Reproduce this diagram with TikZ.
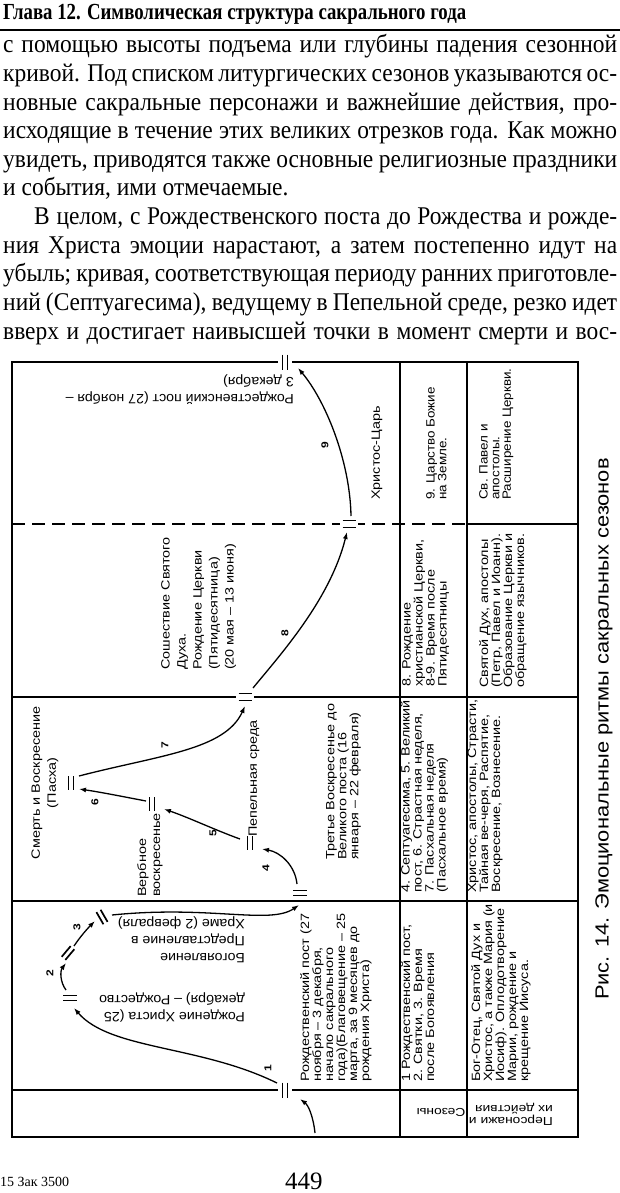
\documentclass[tikz,border=0pt]{standalone}
\usepackage{fontspec}
\usepackage{graphicx}
\setmainfont{Liberation Serif}
\newfontfamily\bodyfont[FakeStretch=0.92]{Liberation Serif}
\newfontfamily\dsans[FakeStretch=1.2]{Liberation Sans}
\newfontfamily\dsansb[FakeStretch=1.12]{Liberation Sans}
\newfontfamily\hsans[FakeStretch=1.05]{Liberation Sans}
\newfontfamily\csans[FakeStretch=1.15]{Liberation Sans}
\usetikzlibrary{arrows.meta}
\tikzset{
  bodyln/.style={anchor=base west, inner sep=0pt, font=\bodyfont\fontsize{25.5}{28}\selectfont},
  vt/.style={rotate=90, anchor=north west, inner sep=0pt, align=left, font=\dsans\fontsize{12}{12}\selectfont},
  vtb/.style={vt, font=\dsansb\fontsize{12}{11.7}\selectfont},
  vtw/.style={vt, font=\dsans\fontsize{12}{16}\selectfont},
  vtc/.style={vtw, anchor=center, align=center},
  vts/.style={rotate=90, anchor=west, inner sep=0pt, font=\dsans\fontsize{12}{12}\selectfont},
  ut/.style={rotate=180, anchor=north west, inner sep=0pt, align=left, font=\hsans\fontsize{13.5}{17}\selectfont},
  utb/.style={ut, font=\dsans\fontsize{11.5}{12}\selectfont},
  num/.style={rotate=90, inner sep=0pt, font=\dsans\bfseries\fontsize{10}{10}\selectfont},
  arr/.style={line width=1.3pt, -{Latex[length=7pt,width=5pt]}},
  boxline/.style={line width=1.8pt},
  dashln/.style={line width=1.8pt, dash pattern=on 13pt off 7pt},
  dbar/.pic={\draw[line width=1.7pt] (-2.4,-7) -- (-2.4,7) (2.4,-7) -- (2.4,7);},
  dbarg/.pic={\fill[white] (-7,-3) rectangle (7,3);
              \draw[line width=1.7pt] (-2.4,-7.5) -- (-2.4,7.5) (2.4,-7.5) -- (2.4,7.5);},
  eqg/.pic={\fill[white] (-9,-2.2) rectangle (9,2.2);
            \draw[line width=1.7pt] (-6.5,-3.6) -- (6.5,-3.6) (-6.5,3.6) -- (6.5,3.6);}
}
\begin{document}
\begin{tikzpicture}[x=1pt,y=-1pt]
\useasboundingbox (0,0) rectangle (620,1193);
\fill[white] (0,0) rectangle (620,1193);

% ---------- header and body text ----------
\node[anchor=base west, inner sep=0pt, font=\bfseries\fontsize{23}{26}\selectfont] (hdr) at (3,20)
  {\resizebox{463pt}{\height}{Глава 12. Символическая структура сакрального года}};
\draw[line width=2.6pt] (0,30) -- (620,30);

\node[bodyln] (b1) at (3,53) {\makebox[614pt][s]{с помощью высоты подъема или глубины падения сезонной}};
\node[bodyln] (b2) at (3,81.6) {\makebox[614pt][s]{кривой. Под списком литургических сезонов указываются ос-}};
\node[bodyln] (b3) at (3,110.2) {\makebox[614pt][s]{новные сакральные персонажи и важнейшие действия, про-}};
\node[bodyln] (b4) at (3,138.8) {\makebox[614pt][s]{исходящие в течение этих великих отрезков года. Как можно}};
\node[bodyln] (b5) at (3,167.4) {\makebox[614pt][s]{увидеть, приводятся также основные религиозные праздники}};
\node[bodyln] (b6) at (3,196) {и события, ими отмечаемые.};
\node[bodyln] (b7) at (34,224.6) {\makebox[583pt][s]{В целом, с Рождественского поста до Рождества и рожде-}};
\node[bodyln] (b8) at (3,253.2) {\makebox[614pt][s]{ния Христа эмоции нарастают, а затем постепенно идут на}};
\node[bodyln] (b9) at (3,281.8) {\makebox[614pt][s]{убыль; кривая, соответствующая периоду ранних приготовле-}};
\node[bodyln] (b10) at (3,310.4) {\makebox[614pt][s]{ний (Септуагесима), ведущему в Пепельной среде, резко идет}};
\node[bodyln] (b11) at (3,339) {\makebox[614pt][s]{вверх и достигает наивысшей точки в момент смерти и вос-}};

% ---------- table frame ----------
\draw[boxline] (12,362) rectangle (578,1137);
\draw[boxline] (400,362) -- (400,1137);
\draw[boxline] (467,362) -- (467,1137);
\draw[dashln] (12,524) -- (467,524);
\draw[boxline] (467,524) -- (578,524);
\draw[boxline] (12,697) -- (578,697);
\draw[boxline] (12,901) -- (578,901);
\draw[boxline] (12,1090) -- (578,1090);

% ---------- markers ----------
\coordinate (mTop) at (285,362);
\coordinate (mK) at (349,524);
\coordinate (mP) at (245,697);
\coordinate (mS) at (300,893);
\coordinate (mStart) at (285,1090);
\coordinate (mR) at (70,998);
\coordinate (mB) at (68,953);
\coordinate (mH) at (102,917);
\coordinate (mPep) at (250,843);
\coordinate (mVerb) at (152,804);
\coordinate (mPas) at (71,783);
\pic at (mTop) {dbarg};
\pic at (mK) {eqg};
\pic at (mP) {eqg};
\pic[rotate=90] at (mS) {dbar};
\pic at (mStart) {dbarg};
\pic[rotate=90] at (mR) {dbar};
\pic[rotate=-40] at (mB) {dbar};
\pic[rotate=30] at (mH) {dbar};
\pic at (mPep) {dbar};
\pic at (mVerb) {dbar};
\pic at (mPas) {dbar};

% ---------- curve end points ----------
\coordinate (s0) at (315,1133);
\coordinate (s0e) at (300,1099);
\coordinate (c1s) at (277,1083);
\coordinate (c1e) at (74,1008);
\coordinate (c2s) at (66,990);
\coordinate (c2e) at (66,963);
\coordinate (c3s) at (74,946);
\coordinate (c3e) at (95,921);
\coordinate (c3bs) at (112,915);
\coordinate (c3be) at (299,905);
\coordinate (c4s) at (297,884);
\coordinate (c4e) at (262,849);
\coordinate (c5s) at (240,839);
\coordinate (c5e) at (164,809);
\coordinate (c6s) at (146,801);
\coordinate (c6e) at (79,789);
\coordinate (c7s) at (79,776);
\coordinate (c7e) at (245,706);
\coordinate (c8s) at (253,688);
\coordinate (c8e) at (347,532);
\coordinate (c9s) at (351,516);
\coordinate (c9e) at (298,368);

\draw[arr] (s0) .. controls (313,1115) and (308,1105) .. (s0e);
\draw[arr] (c1s) .. controls (200,1045) and (110,1050) .. (c1e);
\draw[arr] (c2s) .. controls (60,982) and (60,971) .. (c2e);
\draw[arr] (c3s) .. controls (80,937) and (87,929) .. (c3e);
\draw[arr] (c3bs) .. controls (210,905) and (270,925) .. (c3be);
\draw[arr] (c4s) .. controls (295,865) and (280,852) .. (c4e);
\draw[arr] (c5s) .. controls (215,830) and (190,818) .. (c5e);
\draw[arr] (c6s) .. controls (125,797) and (100,792) .. (c6e);
\draw[arr] (c7s) .. controls (160,755) and (225,750) .. (c7e);
\draw[arr] (c8s) .. controls (280,655) and (330,600) .. (c8e);
\draw[arr] (c9s) .. controls (350,460) and (325,400) .. (c9e);

% ---------- curve numbers ----------
\node[num] (n1) at (268,1068) {1};
\node[num] (n2) at (50,973) {2};
\node[num] (n3) at (77,927) {3};
\node[num] (n4) at (266,868) {4};
\node[num] (n5) at (213,833) {5};
\node[num] (n6) at (95,802) {6};
\node[num] (n7) at (165,745) {7};
\node[num] (n8) at (285,633) {8};
\node[num] (n9) at (325,445) {9};

% ---------- chart labels ----------
\node[ut] (tRpost) at (294,405) {Рождественский пост (27 ноября –\\3 декабря)};
\node[vts] (tCar) at (377,500) {Христос-Царь};
\node[vtw] (tSosh) at (161,670) {Сошествие Святого\\Духа.\\Рождение Церкви\\(Пятидесятница)\\(20 мая – 13 июня)};
\node[vtc] (tPas) at (45,783) {Смерть и Воскресение\\(Пасха)};
\node[vt, font=\dsans\fontsize{12}{14}\selectfont] (tVerb) at (137,897) {Вербное\\воскресенье};
\node[vts] (tPep) at (254,837) {Пепельная среда};
\node[vt] (tTret) at (326,860) {Третье Воскресенье до\\Великого поста (16\\января – 22 февраля)};
\node[vt] (tRp2) at (300,1082) {Рождественский пост (27\\ноября – 3 декабря,\\начало сакрального\\года)(Благовещение – 25\\марта, за 9 месяцев до\\рождения Христа)};
\node[ut] (tRozh) at (245,1022) {Рождение Христа (25\\декабря) – Рождество};
\node[ut] (tBog) at (245,963) {Богоявление\\Представление в\\Храме (2 февраля)};

% ---------- seasons column ----------
\node[vtb] (s4) at (426,500) {9. Царство Божие\\на Земле.};
\node[vt] (s3) at (402,687) {8. Рождение\\христианской Церкви,\\8-9. Время после\\Пятидесятницы};
\node[vt] (s2) at (400.5,893) {4. Септуагесима, 5. Великий\\пост, 6. Страстная неделя,\\7. Пасхальная неделя\\(Пасхальное время)};
\node[vt] (s1) at (401,1082) {1 Рождественский пост,\\2. Святки, 3. Время\\после Богоявления};
\node[utb, anchor=center] (sH) at (441,1112) {Сезоны};

% ---------- persons column ----------
\node[vtb] (p4) at (479,500) {Св. Павел и\\апостолы.\\Расширение Церкви.};
\node[vt] (p3) at (479,688) {Святой Дух, апостолы\\(Петр, Павел и Иоанн).\\Образование Церкви и\\обращение язычников.};
\node[vt] (p2) at (467.5,893) {Христос, апостолы, Страсти,\\Тайная ве-черя, Распятие,\\Воскресение, Вознесение.};
\node[vt] (p1) at (471,1082) {Бог-Отец, Святой Дух и\\Христос, а также Мария (и\\Иосиф). Оплодотворение\\Марии, рождение и\\крещение Иисуса.};
\node[utb] (pH) at (553,1126) {Персонажи и\\их действия};

% ---------- caption and footer ----------
\node[rotate=90, anchor=west, inner sep=0pt, font=\csans\fontsize{19}{22}\selectfont] (cap) at (604,1000)
  {Рис. 14. Эмоциональные ритмы сакральных сезонов};
\node[anchor=base west, inner sep=0pt, font=\fontsize{14}{16}\selectfont] (f1) at (0,1186) {15 Зак 3500};
\node[anchor=base west, inner sep=0pt, font=\fontsize{25}{28}\selectfont] (f2) at (285,1189) {449};
\end{tikzpicture}
\end{document}
